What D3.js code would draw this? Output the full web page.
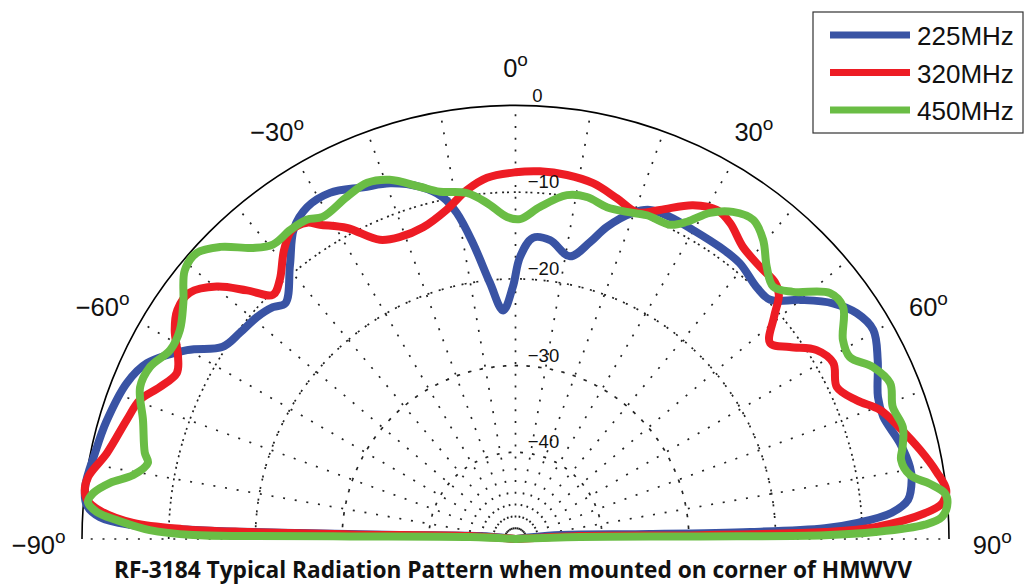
<!DOCTYPE html>
<html>
<head>
<meta charset="utf-8">
<script src="https://cdn.jsdelivr.net/npm/d3@7/dist/d3.min.js"></script>
<style>
  html, body { margin: 0; padding: 0; background: #fff; }
  svg { display: block; }
</style>
</head>
<body>
<svg id="chart" width="1025" height="584"></svg>
<script>
// ---------------- DATA (angle in degrees, level in dB) ----------------
const seriesNames = ["225MHz", "320MHz", "450MHz"];
const seriesColors = ["#3953a4", "#ed1c24", "#6abd45"];

const pattern225 = [
  [-90,-50],[-85.2,-45.9],[-88.0,-36.7],[-88.4,-25.1],[-88.4,-13.6],[-87.9,-5.5],[-87.0,-2.0],
  [-85.5,-0.4],[-83.1,0],[-78.4,-0.5],[-74.0,-0.9],[-68.1,-1.7],[-64.5,-2.9],[-60.1,-6.3],
  [-56.7,-9.6],[-53.2,-10.3],[-49.4,-10.7],[-46.3,-11.3],[-44.3,-12.0],[-39.5,-9.1],[-35.5,-6.0],
  [-32.1,-4.8],[-28.2,-4.7],[-23.4,-5.8],[-19.4,-6.5],[-15.2,-7.9],[-12.0,-9.7],[-10.2,-11.8],
  [-8.2,-15.5],[-5.7,-20.3],[-3.1,-23.6],[-0.6,-20.9],[0.9,-17.5],[3.3,-15.2],[6.6,-15.3],
  [10.9,-16.8],[14.1,-14.7],[16.3,-12.5],[19.8,-10.0],[22.2,-9.0],[25.6,-8.8],[29.9,-8.9],
  [35.0,-8.9],[39.1,-9.0],[43.9,-9.8],[46.8,-9.7],[50.0,-7.1],[53.4,-4.4],[56.5,-2.8],
  [59.7,-2.2],[63.7,-3.4],[68.6,-5.1],[71.6,-5.3],[76.0,-4.3],[79.7,-3.75],[81.5,-3.8],
  [84.3,-4.5],[86.0,-6.5],[87.3,-10.5],[88.0,-14.3],[88.3,-22.9],[87.9,-34.5],[84.9,-44.8],[90,-50]
];

const pattern320 = [
  [-90,-50],[-86.2,-44.7],[-88.4,-30.9],[-88.5,-19.4],[-88.3,-11.6],[-87.6,-5.85],[-86.1,-1.97],
  [-84.8,-0.4],[-83.55,0],[-81.7,-0.2],[-78.1,-1.85],[-73.0,-3.1],[-69.7,-3.8],[-66.85,-5.4],
  [-63.9,-6.5],[-61.7,-5.8],[-58.5,-3.9],[-55.9,-2.9],[-52.9,-2.9],[-49.8,-4.9],[-47.2,-7.8],
  [-44.8,-10.3],[-42.3,-9.6],[-38.7,-7.3],[-35.9,-6.0],[-33.4,-6.3],[-31.9,-7.3],[-28.45,-9.2],
  [-24.4,-12.1],[-20.9,-12.7],[-16.5,-12.5],[-11.8,-11.2],[-7.9,-9.35],[-4.5,-8.2],[0,-7.7],
  [3.8,-7.5],[8.05,-7.6],[12.3,-8.0],[16.6,-9.0],[20.4,-9.8],[23.7,-8.55],[28.0,-6.4],
  [31.5,-5.5],[34.2,-5.95],[37.9,-7.3],[41.95,-7.8],[45.3,-7.9],[47.2,-8.6],[49.35,-10.7],
  [52.4,-12.95],[55.0,-11.4],[57.9,-9.0],[61.0,-8.1],[64.7,-9.0],[67.9,-7.5],[70.5,-5.4],
  [73.9,-3.85],[77.6,-2.2],[81.0,-0.8],[83.5,0],[85.2,-0.6],[86.4,-2.7],[88.1,-8.5],
  [88.7,-14.3],[88.8,-28.7],[87.3,-42.5],[90,-50]
];

const pattern450 = [
  [-90,-50],[-87.5,-44.75],[-89.1,-30.9],[-89.35,-19.4],[-89.3,-12.8],[-88.6,-7.8],[-87.3,-4.0],
  [-86.3,-1.6],[-85.05,-0.5],[-83.8,-1.0],[-82.1,-2.8],[-80.5,-5.3],[-78.3,-6.7],[-76.9,-6.1],
  [-72.3,-4.9],[-68.0,-3.3],[-64.8,-3.4],[-61.3,-4.6],[-58.1,-4.4],[-54.6,-3.0],[-50.9,-0.85],
  [-48.1,-0.6],[-45.3,-2.1],[-42.05,-4.8],[-39.5,-6.0],[-36.1,-5.9],[-33.2,-6.0],[-30.9,-6.7],
  [-26.2,-6.0],[-22.6,-5.5],[-19.3,-6.1],[-15.2,-7.9],[-12.3,-9.0],[-8.0,-9.7],[-4.85,-11.1],
  [-1.5,-12.85],[0.8,-13.1],[4.2,-11.6],[8.5,-9.9],[11.8,-9.7],[15.4,-10.3],[18.8,-10.15],
  [22.1,-9.7],[26.2,-9.6],[28.4,-8.4],[30.8,-6.2],[33.6,-4.7],[36.7,-4.1],[39.6,-5.2],
  [42.75,-7.3],[45.6,-8.4],[48.3,-7.15],[52.0,-3.95],[54.7,-3.7],[58.7,-5.8],[61.45,-6.1],
  [64.3,-4.25],[67.4,-3.2],[70.7,-3.9],[73.9,-3.5],[76.6,-4.1],[78.4,-4.6],[80.8,-3.9],
  [82.4,-1.8],[83.9,-0.2],[85.2,0],[87.05,-0.75],[88.0,-2.75],[88.9,-8.5],[89.3,-14.3],
  [89.2,-28.7],[88.2,-42.6],[90,-50]
];

const radialTicks = [0, -10, -20, -30, -40];
const gridRings = [-10, -20, -30, -40];
const angleLabels = [-90, -60, -30, 0, 30, 60, 90];
const spokeAngles = d3.range(-90, 91, 10);
const titleText = "RF-3184 Typical Radiation Pattern when mounted on corner of HMWVV";

// ---------------- LAYOUT ----------------
const cx = 515.5, cy = 539, R = 433.5;
const svg = d3.select("#chart");
const rScale = d3.scaleLinear().domain([-50, 0]).range([0, R]).clamp(true);
const toRad = d => d * Math.PI / 180;
const fontMain = "'Liberation Sans', Arial, Helvetica, sans-serif";

const g = svg.append("g").attr("transform", `translate(${cx},${cy})`);

// spokes (dotted)
g.append("g").selectAll("line").data(spokeAngles).join("line")
  .attr("x1", 0).attr("y1", 0)
  .attr("x2", d => R * Math.sin(toRad(d)))
  .attr("y2", d => -R * Math.cos(toRad(d)))
  .attr("stroke", "#222").attr("stroke-width", 1.7)
  .attr("stroke-dasharray", "2 9.8").attr("stroke-dashoffset", 2);

// dotted rings
const arcGen = d3.arc().startAngle(-Math.PI / 2).endAngle(Math.PI / 2);
g.append("g").selectAll("path").data(gridRings).join("path")
  .attr("d", d => arcGen({innerRadius: rScale(d), outerRadius: rScale(d)}))
  .attr("fill", "none").attr("stroke", "#222").attr("stroke-width", 1.7)
  .attr("stroke-dasharray", "2 9.8");

// outer solid arc
g.append("path")
  .attr("d", arcGen({innerRadius: R, outerRadius: R}))
  .attr("fill", "none").attr("stroke", "#000").attr("stroke-width", 1.6);

// pattern curves
const lineGen = d3.lineRadial()
  .angle(d => toRad(d[0]))
  .radius(d => rScale(d[1]))
  .curve(d3.curveCatmullRom.alpha(0.5));
const allSeries = [pattern225, pattern320, pattern450];
g.append("g").selectAll("path").data(allSeries).join("path")
  .attr("d", d => lineGen(d))
  .attr("fill", "none")
  .attr("stroke", (d, i) => seriesColors[i])
  .attr("stroke-width", 8)
  .attr("stroke-linejoin", "round").attr("stroke-linecap", "round");

// radial tick labels
g.append("g").selectAll("text").data(radialTicks).join("text")
  .attr("x", d => d === 0 ? 22 : 28)
  .attr("y", d => -rScale(d) - 4)
  .attr("text-anchor", "middle")
  .attr("font-family", fontMain).attr("font-size", 18.5).attr("fill", "#111")
  .text(d => d < 0 ? "\u2212" + Math.abs(d) : String(d));

// angle labels
const labelR = R * 1.1;
const aLab = g.append("g").selectAll("text").data(angleLabels).join("text")
  .attr("x", d => labelR * Math.sin(toRad(d)))
  .attr("y", d => -labelR * Math.cos(toRad(d)) + 15)
  .attr("text-anchor", "middle")
  .attr("font-family", fontMain).attr("font-size", 25.5).attr("fill", "#111");
aLab.append("tspan").text(d => d < 0 ? "\u2212" + Math.abs(d) : String(d));
aLab.append("tspan").attr("dy", -11).attr("font-size", 19).text("o");

// legend
const leg = svg.append("g").attr("transform", "translate(813,12)");
leg.append("rect").attr("x", 0).attr("y", 0).attr("width", 210).attr("height", 121)
  .attr("fill", "#fff").attr("stroke", "#333").attr("stroke-width", 1.2);
const items = leg.selectAll("g.item").data(seriesNames).join("g").attr("class", "item")
  .attr("transform", (d, i) => `translate(0,${23 + i * 37.5})`);
items.append("line").attr("x1", 17).attr("x2", 97).attr("y1", 0).attr("y2", 0)
  .attr("stroke", (d, i) => seriesColors[i]).attr("stroke-width", 7);
items.append("text").attr("x", 104).attr("y", 10)
  .attr("font-family", fontMain).attr("font-size", 26).attr("fill", "#111")
  .text(d => d);

// title
svg.append("text").attr("x", 513).attr("y", 578).attr("text-anchor", "middle")
  .attr("font-family", "'Open Sans', 'Noto Sans', sans-serif").attr("font-weight", "bold")
  .attr("font-size", 22.7).attr("fill", "#111").text(titleText);
</script>
</body>
</html>
